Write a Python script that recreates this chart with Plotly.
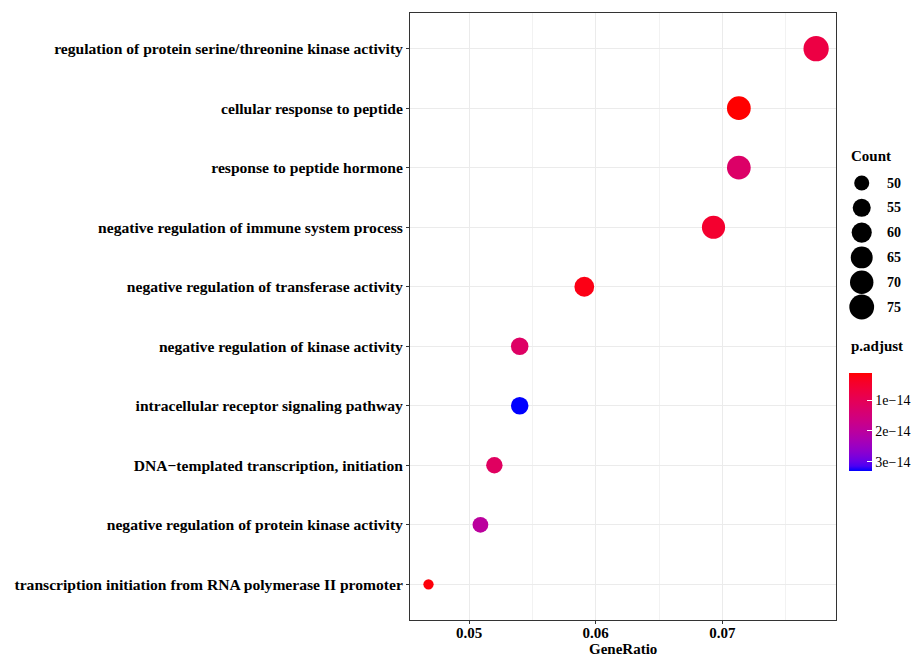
import plotly.graph_objects as go

# ---------------- data ----------------
terms = [
    "regulation of protein serine/threonine kinase activity",
    "cellular response to peptide",
    "response to peptide hormone",
    "negative regulation of immune system process",
    "negative regulation of transferase activity",
    "negative regulation of kinase activity",
    "intracellular receptor signaling pathway",
    "DNA\u2212templated transcription, initiation",
    "negative regulation of protein kinase activity",
    "transcription initiation from RNA polymerase II promoter",
]
gene_ratio = [0.0774, 0.0713, 0.0713, 0.0693, 0.0591, 0.0540, 0.0540, 0.0520, 0.0509, 0.0468]
counts = [77, 71, 71, 69, 59, 54, 54, 52, 51, 47]
p_adjust = [7.5e-15, 1.2e-15, 1.25e-14, 5.0e-15, 2.5e-15, 1.2e-14, 3.3e-14, 1.15e-14, 2.0e-14, 1.8e-15]

x_ticks = [0.05, 0.06, 0.07]
size_breaks = [50, 55, 60, 65, 70, 75]
color_ticks = [1e-14, 2e-14, 3e-14]
color_ticktext = ["1e\u221214", "2e\u221214", "3e\u221214"]

# ---------------- helpers ----------------
def srgb_to_lin(c):
    c = c / 255.0
    return c / 12.92 if c <= 0.04045 else ((c + 0.055) / 1.055) ** 2.4

def lin_to_srgb(c):
    c = max(0.0, min(1.0, c))
    v = 12.92 * c if c <= 0.0031308 else 1.055 * c ** (1 / 2.4) - 0.055
    return int(round(v * 255))

def rgb_to_lab(rgb):
    r, g, b = [srgb_to_lin(v) for v in rgb]
    X = 0.4124 * r + 0.3576 * g + 0.1805 * b
    Y = 0.2126 * r + 0.7152 * g + 0.0722 * b
    Z = 0.0193 * r + 0.1192 * g + 0.9505 * b
    Xn, Yn, Zn = 0.95047, 1.0, 1.08883
    def f(t):
        return t ** (1 / 3) if t > 0.008856 else 7.787 * t + 16 / 116
    fx, fy, fz = f(X / Xn), f(Y / Yn), f(Z / Zn)
    return (116 * fy - 16, 500 * (fx - fy), 200 * (fy - fz))

def lab_to_rgb(lab):
    L, a, b = lab
    fy = (L + 16) / 116
    fx = fy + a / 500
    fz = fy - b / 200
    def finv(t):
        return t ** 3 if t ** 3 > 0.008856 else (t - 16 / 116) / 7.787
    Xn, Yn, Zn = 0.95047, 1.0, 1.08883
    X, Y, Z = Xn * finv(fx), Yn * finv(fy), Zn * finv(fz)
    r = 3.2406 * X - 1.5372 * Y - 0.4986 * Z
    g = -0.9689 * X + 1.8758 * Y + 0.0415 * Z
    bb = 0.0557 * X - 0.2040 * Y + 1.0570 * Z
    return (lin_to_srgb(r), lin_to_srgb(g), lin_to_srgb(bb))

# colorscale over negated p so that the colorbar shows small p (red) at the top
lab_red = rgb_to_lab((255, 0, 0))
lab_blue = rgb_to_lab((0, 0, 255))
nstops = 21
colorscale = []
for i in range(nstops):
    t = i / (nstops - 1)          # 0 -> -max p (blue), 1 -> -min p (red)
    lab = tuple(lab_blue[k] + (lab_red[k] - lab_blue[k]) * t for k in range(3))
    r, g, b = lab_to_rgb(lab)
    colorscale.append([t, f"rgb({r},{g},{b})"])

neg_p = [-p for p in p_adjust]
cmin, cmax = min(neg_p), max(neg_p)
cnt_min, cnt_max = min(counts), max(counts)

def size_px(c):
    frac = max(0.0, (c - cnt_min) / (cnt_max - cnt_min))
    return 10.3 + 15.0 * frac ** 0.5

FONT = "Liberation Serif"
# the page body has an 8px margin: build the figure 8px smaller and work in
# page coordinates shifted by that offset
OFF = 8
W, H = 921 - OFF, 657 - OFF
L_M, R_M, T_M, B_M = 410 - OFF, 0, 13 - OFF, 37
plot_w = W - L_M - R_M
plot_h = H - T_M - B_M

def px_x(page_x):
    return (page_x - OFF - L_M) / plot_w

def px_y(page_y):
    return (H - B_M - (page_y - OFF)) / plot_h

main_frac = px_x(836)
leg_x0 = px_x(845)

fig = go.Figure()

fig.add_trace(go.Scatter(
    x=gene_ratio, y=terms, mode="markers",
    customdata=p_adjust,
    marker=dict(
        size=[size_px(c) for c in counts], opacity=1,
        color=neg_p, colorscale=colorscale, cmin=cmin, cmax=cmax,
        line=dict(width=0),
        colorbar=dict(
            x=px_x(849), xanchor="left",
            y=px_y(373), yanchor="top",
            lenmode="pixels", len=98, thickness=23,
            ypad=0, xpad=0, outlinewidth=0,
            tickvals=[-v for v in color_ticks], ticktext=color_ticktext,
            ticks="inside", ticklen=5, tickcolor="white", tickwidth=1,
            tickfont=dict(family=FONT, size=14, color="black"),
        ),
    ),
    showlegend=False,
    hovertemplate="%{y}<br>GeneRatio=%{x}<br>p.adjust=%{customdata}<extra></extra>",
))

fig.add_annotation(x=px_x(849), y=px_y(346), xref="paper", yref="paper",
                   text="<b>p.adjust</b>", showarrow=False, xanchor="left", yanchor="middle",
                   font=dict(family=FONT, size=15, color="black"))

# x axis title
fig.add_annotation(x=main_frac / 2, y=px_y(649), xref="paper", yref="paper",
                   text="<b>GeneRatio</b>", showarrow=False, xanchor="center", yanchor="middle",
                   borderpad=0,
                   font=dict(family=FONT, size=15, color="black"))

# size legend drawn on an auxiliary axis
spacing = 24.8
first_y = 183 - OFF
idx = list(range(len(size_breaks)))
fig.add_trace(go.Scatter(
    x=[0.22] * len(size_breaks), y=idx, mode="markers",
    marker=dict(size=[size_px(c) for c in size_breaks], color="black", opacity=1,
                line=dict(width=0)),
    xaxis="x2", yaxis="y2", showlegend=False, hoverinfo="skip",
))
for i, b in zip(idx, size_breaks):
    fig.add_annotation(x=0.53, y=i, xref="x2", yref="y2", text=f"<b>{b}</b>",
                       showarrow=False, xanchor="left", yanchor="middle",
                       font=dict(family=FONT, size=14, color="black"))
fig.add_annotation(x=0.05, y=(156 - OFF - first_y) / spacing, xref="x2", yref="y2",
                   text="<b>Count</b>", showarrow=False, xanchor="left", yanchor="middle",
                   font=dict(family=FONT, size=15, color="black"))

y2_top = (T_M - first_y) / spacing
y2_bot = (H - B_M - first_y) / spacing

fig.update_layout(
    width=W, height=H,
    margin=dict(l=L_M, r=R_M, t=T_M, b=B_M, autoexpand=False),
    paper_bgcolor="white", plot_bgcolor="white",
    font=dict(family=FONT, color="black"),
    xaxis=dict(
        domain=[0, main_frac],
        range=[0.04534, 0.07897],
        tickvals=x_ticks, ticktext=[f"<b>{v:.2f}</b>" for v in x_ticks],
        tickfont=dict(family=FONT, size=15, color="black"),
        ticklabelstandoff=-4,
        showgrid=True, gridcolor="#EBEBEB", gridwidth=1.1,
        minor=dict(tickvals=[0.045, 0.055, 0.065, 0.075], showgrid=True,
                   gridcolor="#F2F2F2", gridwidth=0.6, ticks=""),
        showline=True, linecolor="#333333", linewidth=1, mirror=True,
        ticks="outside", ticklen=3, tickcolor="#333333",
        zeroline=False,
    ),
    yaxis=dict(
        type="category", categoryorder="array", categoryarray=terms[::-1],
        range=[-0.6, len(terms) - 0.4],
        tickfont=dict(family=FONT, size=15.6, color="black"),
        tickvals=terms, ticktext=[f"<b>{t}</b>" for t in terms],
        showgrid=True, gridcolor="#EBEBEB", gridwidth=1.1,
        showline=True, linecolor="#333333", linewidth=1, mirror=True,
        ticks="outside", ticklen=3, tickcolor="#333333",
        zeroline=False,
    ),
    xaxis2=dict(domain=[leg_x0, 1], range=[0, 1], visible=False, anchor="y2"),
    yaxis2=dict(domain=[0, 1], range=[y2_bot, y2_top], visible=False, anchor="x2"),
)

fig.write_html("out.html")
